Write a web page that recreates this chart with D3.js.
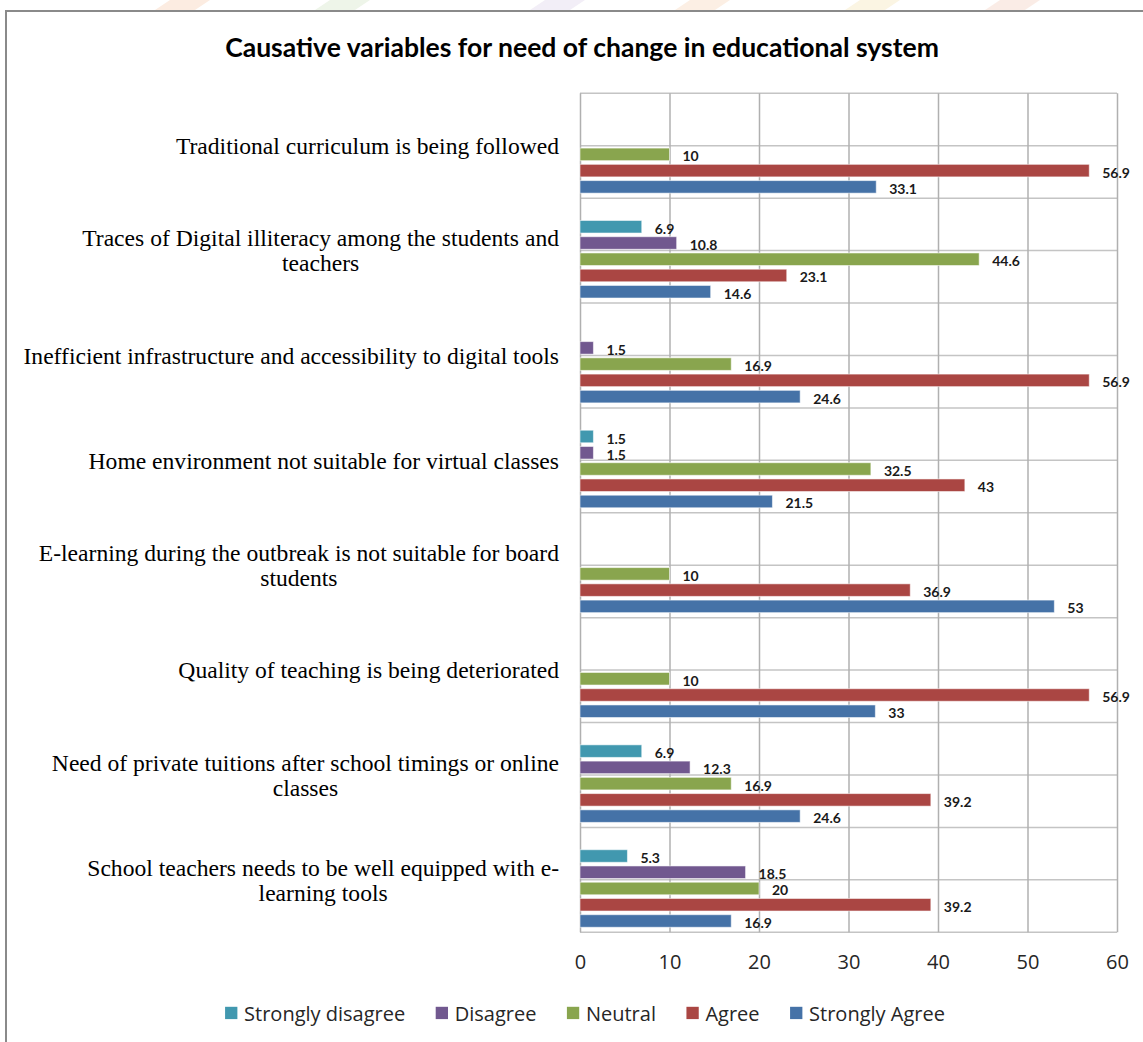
<!DOCTYPE html>
<html>
<head>
<meta charset="utf-8">
<script src="https://cdn.jsdelivr.net/npm/d3@7"></script>
<style>
  body { margin: 0; background: #fff; }
</style>
</head>
<body>
<div id="chart"></div>
<script>
// chart data
const categories = [
    "Traditional curriculum is being followed",
    "Traces of Digital illiteracy among the students and teachers",
    "Inefficient infrastructure and accessibility to digital tools",
    "Home environment not suitable for virtual classes",
    "E-learning during the outbreak is not suitable for board students",
    "Quality of teaching is being deteriorated",
    "Need of private tuitions after school timings or online classes",
    "School teachers needs to be well equipped with e-learning tools"
];
// how the category labels wrap
const labelLines = [
    ["Traditional curriculum is being followed"],
    ["Traces of Digital illiteracy among the students and", "teachers"],
    ["Inefficient infrastructure and accessibility to digital tools"],
    ["Home environment not suitable for virtual classes"],
    ["E-learning during the outbreak is not suitable for board", "students"],
    ["Quality of teaching is being deteriorated"],
    ["Need of private tuitions after school timings or online", "classes"],
    ["School teachers needs to be well equipped with e-", "learning tools"]
];
const series = ["Strongly disagree", "Disagree", "Neutral", "Agree", "Strongly Agree"];
const seriesColors = ["#4198AF", "#71588F", "#89A54E", "#AA4643", "#4572A7"];

const stronglyDisagree = [null, 6.9, null, 1.5, null, null, 6.9, 5.3];
const disagree         = [null, 10.8, 1.5, 1.5, null, null, 12.3, 18.5];
const neutral          = [10, 44.6, 16.9, 32.5, 10, 10, 16.9, 20];
const agree            = [56.9, 23.1, 56.9, 43, 36.9, 56.9, 39.2, 39.2];
const stronglyAgree    = [33.1, 14.6, 24.6, 21.5, 53, 33, 24.6, 16.9];

const xTicks = [0, 10, 20, 30, 40, 50, 60];
const title = "Causative variables for need of change in educational system";

// flatten into one row per bar
const seriesValues = [stronglyDisagree, disagree, neutral, agree, stronglyAgree];
const bars = [];
categories.forEach(function(c, i) {
    series.forEach(function(s, j) {
        const v = seriesValues[j][i];
        if (v != null) bars.push({ category: c, series: s, value: v, color: seriesColors[j] });
    });
});

drawChart();

function drawChart() {
    const W = 1143, H = 1042;
    const plot = { left: 580, right: 1117, top: 93.3, bottom: 932.3 };

    const svg = d3.select("#chart")
        .append("svg")
        .attr("width", W)
        .attr("height", H);

    svg.append("rect").attr("width", W).attr("height", H).attr("fill", "#fff");

    // faint page watermark peeking above the chart frame
    const wm = [[170, "#f6c9a8"], [330, "#cfe3c0"], [545, "#d9cde8"], [690, "#f7d2b2"], [860, "#f3e3b0"], [1000, "#f2c8b8"]];
    svg.selectAll(".wm")
        .data(wm)
        .enter().append("path")
        .attr("d", d => `M${d[0]},0 L${d[0] + 40},0 L${d[0] + 25},10 L${d[0] - 15},10 Z`)
        .attr("fill", d => d[1])
        .attr("opacity", 0.35);

    // chart frame
    svg.append("rect")
        .attr("x", 6).attr("y", 11)
        .attr("width", W + 20).attr("height", H + 20)
        .attr("fill", "#fff")
        .attr("stroke", "#8a8a8a")
        .attr("stroke-width", 2);

    // title, fitted to the width it takes in the picture
    const t = svg.append("text")
        .attr("x", 582)
        .attr("y", 57)
        .attr("text-anchor", "middle")
        .style("font-family", "Lato, 'Open Sans', sans-serif")
        .style("font-weight", "bold")
        .style("font-size", "24px")
        .attr("fill", "#000")
        .text(title);
    const tl = t.node().getComputedTextLength();
    t.style("font-size", (24 * 714 / tl).toFixed(2) + "px");

    // scales
    const x = d3.scaleLinear().domain([0, 60]).range([plot.left, plot.right]);
    const y0 = d3.scaleBand().domain(categories).range([plot.top, plot.bottom]);
    const bw = y0.bandwidth();
    const y1 = d3.scaleBand().domain(series)
        .range([bw * 0.2126, bw * 0.952])
        .paddingInner(0.227);

    // horizontal grid: category edges and centres
    const half = d3.scaleLinear().domain([0, categories.length * 2]).range([plot.top, plot.bottom]);
    svg.append("g")
        .selectAll("line")
        .data(d3.range(categories.length * 2 + 1))
        .enter().append("line")
        .attr("x1", plot.left).attr("x2", plot.right)
        .attr("y1", d => half(d)).attr("y2", d => half(d))
        .attr("stroke", "#c4c4c4")
        .attr("stroke-width", 1.5);

    // x axis with vertical grid
    const xAxis = d3.axisBottom(x)
        .tickValues(xTicks)
        .tickSize(-(plot.bottom - plot.top))
        .tickPadding(23);
    const gx = svg.append("g")
        .attr("transform", `translate(0,${plot.bottom})`)
        .call(xAxis);
    gx.select(".domain").remove();
    gx.selectAll("line").attr("stroke", "#b0b0b0").attr("stroke-width", 1.5);
    gx.selectAll("text")
        .style("font-family", "'Open Sans', sans-serif")
        .style("font-size", "20px")
        .attr("fill", "#262626");

    // bars
    svg.selectAll(".bar")
        .data(bars)
        .enter().append("rect")
        .attr("class", "bar")
        .attr("x", x(0))
        .attr("y", d => y0(d.category) + y1(d.series))
        .attr("width", d => x(d.value) - x(0))
        .attr("height", y1.bandwidth())
        .attr("fill", d => d.color)
        .attr("stroke", "rgba(255,255,255,0.55)")
        .attr("stroke-width", 1);

    // value labels
    svg.selectAll(".val")
        .data(bars)
        .enter().append("text")
        .attr("class", "val")
        .attr("x", d => x(d.value) + 13)
        .attr("y", d => y0(d.category) + y1(d.series) + y1.bandwidth() / 2 + 1.5)
        .attr("dominant-baseline", "central")
        .style("font-family", "Lato, sans-serif")
        .style("font-weight", "bold")
        .style("font-size", "14px")
        .attr("fill", "#1a1a1a")
        .text(d => d.value);

    // category labels: lines centred on each other, block right-aligned
    const labelRight = 559, lineH = 25;
    categories.forEach(function(c, i) {
        const lines = labelLines[i];
        const cy = y0(c) + bw / 2;
        const txt = svg.append("text")
            .style("font-family", "'Liberation Serif', 'Times New Roman', serif")
            .style("font-size", "23.6px")
            .attr("fill", "#000")
            .attr("text-anchor", "middle");
        const spans = lines.map(function(l, k) {
            return txt.append("tspan")
                .attr("y", cy + (k - (lines.length - 1) / 2) * lineH)
                .attr("dy", "0.35em")
                .text(l);
        });
        const maxW = d3.max(spans, s => s.node().getComputedTextLength());
        spans.forEach(s => s.attr("x", labelRight - maxW / 2));
    });

    // legend
    const legend = svg.append("g");
    let lx = 0;
    series.forEach(function(s, i) {
        const g = legend.append("g").attr("transform", `translate(${lx},0)`);
        g.append("rect")
            .attr("x", 0).attr("y", -6.2)
            .attr("width", 12.3).attr("height", 12.3)
            .attr("fill", seriesColors[i]);
        const tx = g.append("text")
            .attr("x", 19)
            .attr("y", 0)
            .attr("dominant-baseline", "central")
            .style("font-family", "'Open Sans', sans-serif")
            .style("font-size", "20px")
            .attr("fill", "#262626")
            .text(s);
        lx += 19 + tx.node().getComputedTextLength() + 30.5;
    });
    const total = lx - 30.5;
    legend.attr("transform", `translate(${585 - total / 2},1013)`);
}
</script>
</body>
</html>
